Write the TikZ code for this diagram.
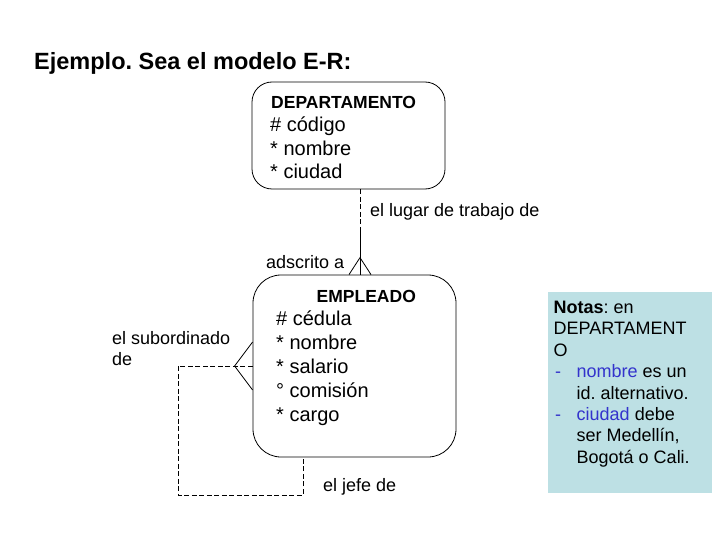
\documentclass[tikz,border=0pt]{standalone}
\usepackage{fontspec}
\setmainfont{Liberation Sans}
\usetikzlibrary{calc}
\definecolor{notebg}{HTML}{BDE0E4}
\definecolor{noteblue}{HTML}{3333CC}
\frenchspacing
\begin{document}
\begin{tikzpicture}[x=1pt,y=-1pt,
  entity/.style={draw, line width=0.8pt, rounded corners=#1, inner sep=0pt},
  txt/.style={inner sep=0pt, anchor=base west},
  ename/.style={txt, font=\bfseries\fontsize{17.5}{21}\selectfont},
  attr/.style={txt, font=\fontsize{20}{24}\selectfont},
  lbl/.style={txt, font=\fontsize{18}{21}\selectfont},
  note/.style={txt, font=\fontsize{18}{21.5}\selectfont},
  rel/.style={line width=0.8pt},
  optrel/.style={line width=0.8pt, dash pattern=on 5pt off 2.5pt}]
\useasboundingbox (0,0) rectangle (720,540);

% title
\node[txt, font=\bfseries\fontsize{23.5}{28}\selectfont] (title) at (34,70) {Ejemplo. Sea el modelo E-R:};

% DEPARTAMENTO
\node[entity=20pt, minimum width=193pt, minimum height=107pt] (dep) at (348.5,135.5) {};
\node[ename] (depn) at (271,109) {DEPARTAMENTO};
\node[attr] (d1) at (270,132) {\# código};
\node[attr] (d2) at (270,155.5) {* nombre};
\node[attr] (d3) at (270,179) {* ciudad};

% EMPLEADO
\node[entity=28pt, minimum width=203pt, minimum height=182pt] (emp) at (354.5,366) {};
\node[ename] (empn) at (316.5,302) {EMPLEADO};
\node[attr] (e1) at (276,325) {\# cédula};
\node[attr] (e2) at (276,349) {* nombre};
\node[attr] (e3) at (276,373) {* salario};
\node[attr] (e4) at (276,397) {° comisión};
\node[attr] (e5) at (276,421) {* cargo};

% relationship DEPARTAMENTO - EMPLEADO
\coordinate (xr) at (360,0);
\coordinate (dtop) at (dep.south -| xr);
\coordinate (ebot) at (emp.north -| xr);
\coordinate (mid) at ($(dtop)!0.5!(ebot)$);
\draw[optrel] (dtop) -- (mid);
\draw[rel] (mid) -- (ebot);
\draw[rel] ($(ebot)+(-11,0)$) -- ($(ebot)+(0,-17)$) -- ($(ebot)+(11,0)$);
\node[lbl] (l1) at (370,217) {el lugar de trabajo de};
\node[lbl] (l2) at (266,268) {adscrito a};

% recursive relationship
\coordinate (lc) at (178,366);
\coordinate (bl) at (178,495);
\coordinate (br) at (303,495);
\draw[optrel] (emp.west) -- (lc) -- (bl) -- (br) -- (emp.south -| br);
\draw[rel] ($(emp.west)+(0,-24)$) -- ($(emp.west)+(-18,0)$) -- ($(emp.west)+(0,24)$);
\node[lbl] (l3) at (112,344) {el subordinado};
\node[lbl] (l4) at (112,365) {de};
\node[lbl] (l5) at (323,491) {el jefe de};

% notes
\node[fill=notebg, minimum width=164pt, minimum height=201pt, inner sep=0pt] (notes) at (630,392.5) {};
\node[note] (n1) at (553.5,313.5) {\textbf{Notas}: en};
\node[note] (n2) at (553.5,334.9) {DEPARTAMENT};
\node[note] (n3) at (553.5,356.3) {O};
\node[note] (n4) at (555,377.7) {\makebox[21.5pt][l]{\color{noteblue}-}{\color{noteblue}nombre} es un};
\node[note] (n5) at (576.5,399.1) {id. alternativo.};
\node[note] (n6) at (555,420.5) {\makebox[21.5pt][l]{\color{noteblue}-}{\color{noteblue}ciudad} debe};
\node[note] (n7) at (576.5,441.9) {ser Medellín,};
\node[note] (n8) at (576.5,463.3) {Bogotá o Cali.};
\end{tikzpicture}
\end{document}
